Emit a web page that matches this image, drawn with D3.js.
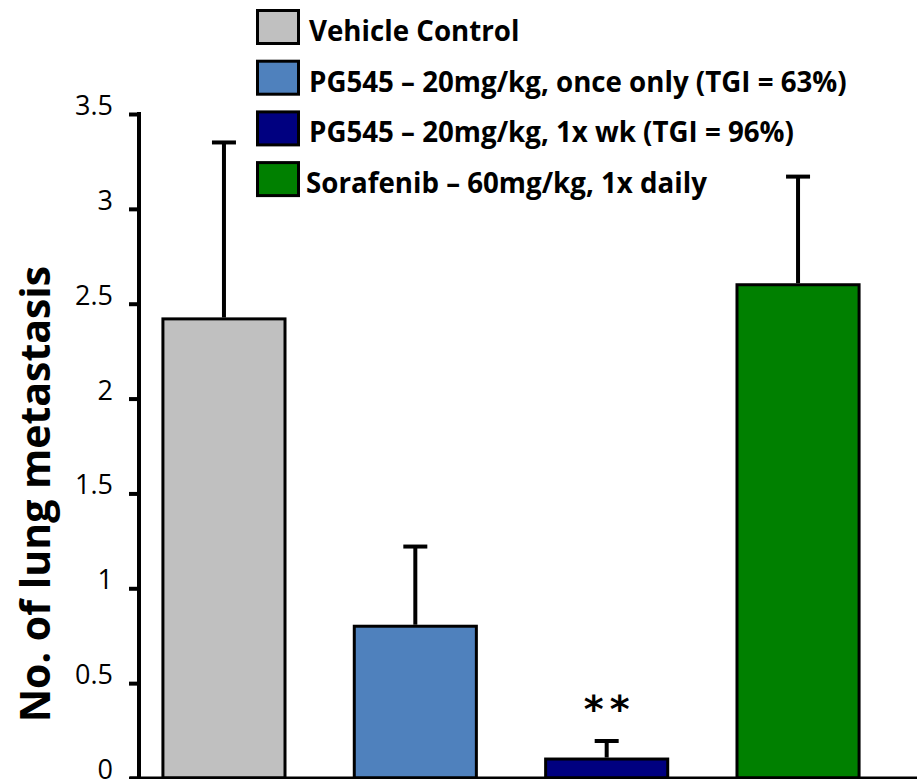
<!DOCTYPE html>
<html>
<head>
<meta charset="utf-8">
<script src="https://cdn.jsdelivr.net/npm/d3@7"></script>
<style>
  html, body { margin: 0; padding: 0; background: #fff; }
  svg { display: block; }
  text { font-family: "Open Sans", sans-serif; fill: #000; }
</style>
</head>
<body>
<div id="chart"></div>
<script>
var categories = [
    "Vehicle Control",
    "PG545 \u2013 20mg/kg, once only (TGI = 63%)",
    "PG545 \u2013 20mg/kg, 1x wk (TGI = 96%)",
    "Sorafenib \u2013 60mg/kg, 1x daily"
];
var means = [2.42, 0.80, 0.10, 2.60];
var errors = [0.93, 0.42, 0.095, 0.57];
var colors = ["#c0c0c0", "#4f81bd", "#000080", "#008000"];
var marks = ["", "", "**", ""];
var yTicks = [0, 0.5, 1, 1.5, 2, 2.5, 3, 3.5];
var yTitle = "No. of lung metastasis";

var W = 917, H = 779;
var axisX = 139, y0 = 778, yTop = 114;

var svg = d3.select("#chart").append("svg")
    .attr("width", W)
    .attr("height", H);

var data = categories.map(function(c, i) {
    return { name: c, mean: means[i], err: errors[i], color: colors[i], mark: marks[i] };
});

var x = d3.scaleBand()
    .domain(categories)
    .range([axisX, 883])
    .paddingInner(0.362)
    .paddingOuter(0.125);

var y = d3.scaleLinear()
    .domain([0, 3.5])
    .range([y0, yTop]);

// bars
svg.selectAll(".bar")
    .data(data)
    .enter()
    .append("rect")
    .attr("class", "bar")
    .attr("x", function(d) { return x(d.name); })
    .attr("y", function(d) { return y(d.mean); })
    .attr("width", x.bandwidth())
    .attr("height", function(d) { return y0 - y(d.mean); })
    .attr("fill", function(d) { return d.color; })
    .attr("stroke", "#000")
    .attr("stroke-width", 3);

// error bars (upper only)
var eb = svg.selectAll(".err")
    .data(data)
    .enter()
    .append("g")
    .attr("class", "err");

eb.append("line")
    .attr("x1", function(d) { return x(d.name) + x.bandwidth() / 2; })
    .attr("x2", function(d) { return x(d.name) + x.bandwidth() / 2; })
    .attr("y1", function(d) { return y(d.mean) - 1.5; })
    .attr("y2", function(d) { return y(d.mean + d.err); })
    .attr("stroke", "#000")
    .attr("stroke-width", 4);

eb.append("line")
    .attr("x1", function(d) { return x(d.name) + x.bandwidth() / 2 - 12; })
    .attr("x2", function(d) { return x(d.name) + x.bandwidth() / 2 + 12; })
    .attr("y1", function(d) { return y(d.mean + d.err); })
    .attr("y2", function(d) { return y(d.mean + d.err); })
    .attr("stroke", "#000")
    .attr("stroke-width", 4);

// significance marks
svg.selectAll(".sig")
    .data(data.filter(function(d) { return d.mark; }))
    .enter()
    .append("text")
    .attr("class", "sig")
    .attr("x", function(d) { return x(d.name) + x.bandwidth() / 2 + 3; })
    .attr("y", function(d) { return y(d.mean + d.err) - 38; })
    .attr("text-anchor", "middle")
    .style("font-family", "DejaVu Sans")
    .style("font-weight", "bold")
    .style("font-size", "38px")
    .style("letter-spacing", "6px")
    .attr("dy", "0.5em")
    .text(function(d) { return d.mark; });

// y axis
var yAxis = svg.append("g")
    .attr("transform", "translate(" + axisX + ",0)")
    .call(d3.axisLeft(y).tickValues(yTicks).tickSize(10).tickPadding(16)
        .tickFormat(function(d) { return String(d); }));
yAxis.select(".domain").remove();
yAxis.selectAll(".tick line").attr("stroke", "#000").attr("stroke-width", 4);
yAxis.selectAll(".tick text")
    .attr("dy", "0.02em")
    .style("font-family", "Open Sans")
    .style("font-size", "27px")
    .attr("fill", "#000");

svg.append("line")
    .attr("x1", axisX).attr("x2", axisX)
    .attr("y1", yTop - 2).attr("y2", y0)
    .attr("stroke", "#000")
    .attr("stroke-width", 4);

// x axis baseline
svg.append("line")
    .attr("x1", 130).attr("x2", W)
    .attr("y1", y0).attr("y2", y0)
    .attr("stroke", "#000")
    .attr("stroke-width", 3);

// y title
svg.append("text")
    .attr("transform", "translate(50,494) rotate(-90)")
    .attr("text-anchor", "middle")
    .style("font-size", "41px")
    .style("font-weight", "bold")
    .text(yTitle);

// legend
var legend = svg.selectAll(".legend")
    .data(data)
    .enter()
    .append("g")
    .attr("class", "legend")
    .attr("transform", function(d, i) { return "translate(256," + (9 + i * 50.7) + ")"; });

legend.append("rect")
    .attr("x", 1.5).attr("y", 1.5)
    .attr("width", 41).attr("height", 33)
    .attr("fill", function(d) { return d.color; })
    .attr("stroke", "#000")
    .attr("stroke-width", 3);

legend.append("text")
    .attr("x", function(d, i) { return i === 3 ? 50 : 53; })
    .attr("y", 32)
    .style("font-size", "27.7px")
    .style("font-weight", "bold")
    .text(function(d) { return d.name; });
</script>
</body>
</html>
